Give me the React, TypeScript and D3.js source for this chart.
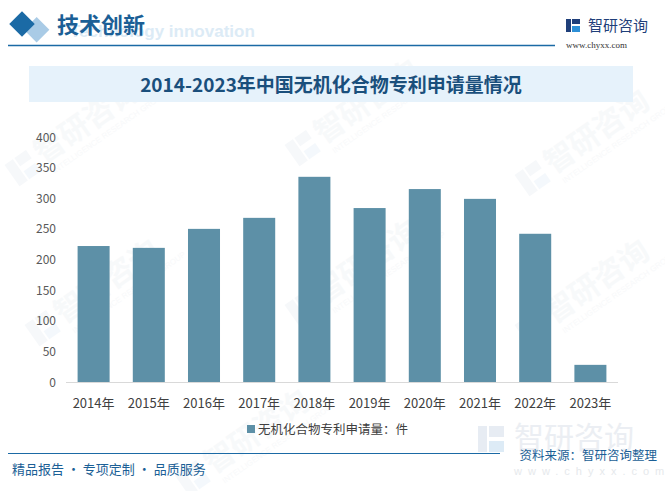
import React from 'react';
import * as d3 from 'd3';

const years = ['2014年', '2015年', '2016年', '2017年', '2018年', '2019年', '2020年', '2021年', '2022年', '2023年'];
const patents = [222, 219, 250, 268, 335, 284, 315, 299, 242, 28];
const yTicks = [0, 50, 100, 150, 200, 250, 300, 350, 400];

const W = 665;
const H = 491;
const cjk = '"Noto Sans CJK SC", "Microsoft YaHei", sans-serif';

const Watermark: React.FC<{ x: number; y: number }> = ({ x, y }) => (
  <g transform={`translate(${x},${y}) rotate(-35)`} opacity={0.4}>
    <rect x={-40} y={-22} width={10} height={26} fill="#e9eef4" />
    <rect x={-28} y={-22} width={14} height={10} fill="#e9eef4" />
    <rect x={-28} y={-6} width={14} height={10} fill="#e6f0f8" />
    <text x={-8} y={0} fontFamily={cjk} fontSize={30} fontWeight={700} fill="#edf1f5">智研咨询</text>
    <text x={-4} y={14} fontFamily="Arial, sans-serif" fontSize={8} fill="#eef1f4">INTELLIGENCE RESEARCH GROUP</text>
  </g>
);

const App: React.FC = () => {
  const left = 66;
  const right = 618;
  const y0 = 382;
  const yTop = 137;

  const x = d3.scaleBand<string>().domain(years).range([left, right]).paddingInner(0.42).paddingOuter(0.21);
  const y = d3.scaleLinear().domain([0, 400]).range([y0, yTop]);

  return (
    <svg width={W} height={H} style={{ position: 'absolute', left: 0, top: 0, background: '#fff' }}>
      <rect width={W} height={H} fill="#fff" />

      {/* watermarks */}
      <Watermark x={50} y={160} />
      <Watermark x={330} y={140} />
      <Watermark x={560} y={170} />
      <Watermark x={70} y={320} />
      <Watermark x={330} y={300} />
      <Watermark x={560} y={320} />
      <Watermark x={220} y={470} />

      {/* header */}
      <text x={70} y={37} fontFamily="Arial, sans-serif" fontSize={17} fontWeight={700} fill="#dcebf6">Technology innovation</text>
      <rect x={22} y={15} width={18} height={18} fill="#a9cbe6" transform="rotate(45 31 24) translate(8 0)" />
      <rect x={13} y={15} width={18} height={18} fill="#1b6aa5" transform="rotate(45 22 24)" />
      <text x={57} y={33} fontFamily={cjk} fontSize={22} fontWeight={700} fill="#1b5f96">技术创新</text>
      <line x1={8} x2={555} y1={45.5} y2={45.5} stroke="#1b6aa5" strokeWidth={1.5} />
      <rect x={566} y={19} width={5} height={13} fill="#1f3f7a" />
      <rect x={572} y={19} width={8} height={5} fill="#1f3f7a" />
      <rect x={572} y={26} width={8} height={6} fill="#2d8fd6" />
      <text x={588} y={31} fontFamily={cjk} fontSize={15} fill="#1f3f7a">智研咨询</text>
      <text x={566} y={48} fontFamily="'Liberation Serif', serif" fontSize={9} fill="#333">www.chyxx.com</text>

      {/* title */}
      <rect x={29} y={66} width={604} height={36} fill="#e6f2fb" />
      <text x={331} y={92} textAnchor="middle" fontFamily={cjk} fontSize={19} fontWeight={700} fill="#1a4f7c">
        2014-2023年中国无机化合物专利申请量情况
      </text>

      {/* y axis labels */}
      {yTicks.map(t => (
        <text key={t} x={56} y={y(t) + 4.5} textAnchor="end" fontFamily={cjk} fontSize={12} fill="#595959">{t}</text>
      ))}

      {/* bars */}
      {years.map((yr, i) => (
        <rect key={yr} x={x(yr)} y={y(patents[i])} width={x.bandwidth()} height={y0 - y(patents[i])} fill="#5d90a7" />
      ))}
      <line x1={left} x2={right} y1={y0 + 0.5} y2={y0 + 0.5} stroke="#d9d9d9" strokeWidth={1} />

      {/* x labels */}
      {years.map(yr => (
        <text key={yr} x={(x(yr) ?? 0) + x.bandwidth() / 2} y={408} textAnchor="middle" fontFamily={cjk} fontSize={13} fill="#404040">{yr}</text>
      ))}

      {/* legend */}
      <rect x={247} y={425} width={8} height={8} fill="#5d90a7" />
      <text x={258} y={434} fontFamily={cjk} fontSize={12.5} fill="#404040">无机化合物专利申请量：件</text>

      {/* footer watermark logo */}
      <g opacity={0.7}>
        <rect x={478} y={426} width={9} height={26} fill="#dde5ee" />
        <rect x={489} y={426} width={15} height={11} fill="#dde5ee" />
        <rect x={489} y={441} width={15} height={11} fill="#cfe3f3" />
        <text x={514} y={448} fontFamily={cjk} fontSize={30} fill="#e3e8ee">智研咨询</text>
      </g>

      {/* footer */}
      <line x1={8} x2={500} y1={453.5} y2={453.5} stroke="#1b6aa5" strokeWidth={1.2} />
      <text x={657} y={460} textAnchor="end" fontFamily={cjk} fontSize={12.5} fill="#1b5f96">资料来源：智研咨询整理</text>
      <text x={514} y={475} fontFamily="Arial, sans-serif" fontSize={11} fill="#e6e9ec" letterSpacing={6}>www.chyxx.com</text>
      <text x={12} y={474} fontFamily={cjk} fontSize={13} fill="#1b5f96">精品报告 · 专项定制 · 品质服务</text>
    </svg>
  );
};

export default App;
